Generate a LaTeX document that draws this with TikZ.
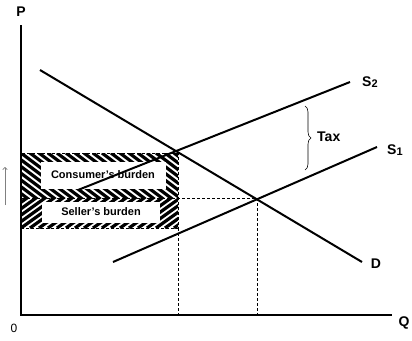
\documentclass[tikz,border=0pt]{standalone}
\usepackage{fontspec}
\setmainfont{Liberation Sans}
\usetikzlibrary{decorations.pathreplacing,arrows.meta}
\begin{document}
\begin{tikzpicture}[
    x=1pt, y=-1pt,
    axis/.style={line width=2.5pt},
    curve/.style={line width=2pt},
    guide/.style={densely dashed, line width=0.5pt},
    stripe/.style={line width=3.2pt},
    label/.style={font=\bfseries\fontsize{14}{14}\selectfont, inner sep=0pt},
    burden/.style={fill=white, font=\bfseries\fontsize{11}{11}\selectfont, inner sep=0pt}
  ]
  \useasboundingbox (0,0) rectangle (412,340);
  % axes
  \coordinate (O) at (21,315);
  \coordinate (Ptop) at (21,25);
  \coordinate (Qend) at (392,315);
  % curves
  \coordinate (D1) at (40,70);
  \coordinate (D2) at (362,262);
  \coordinate (S2a) at (78,190);
  \coordinate (S2b) at (350,82);
  \coordinate (S1a) at (113,262);
  \coordinate (S1b) at (377,147);
  % burden box and equilibria
  \coordinate (BoxTL) at (22,153);
  \coordinate (BoxTR) at (178,153);
  \coordinate (BoxML) at (22,198);
  \coordinate (BoxBL) at (22,228);
  \coordinate (BoxBR) at (178,228);
  \coordinate (Eq) at (257,198);
  \coordinate (Q1) at (178,315);
  \coordinate (Q0) at (257,315);
  % hatching
  \begin{scope}
    \clip (BoxTL) rectangle (BoxBR);
    \foreach \p in {0,9,...,240}
      \draw[stripe] (\p-60,153) -- (\p,198) -- (\p-42,228);
  \end{scope}
  \draw[guide] (BoxTL) -- (BoxTR) -- (BoxBR) -- (BoxBL);
  \draw[guide] (BoxML) -- (Eq);
  \draw[guide] (BoxBR) -- (Q1);
  \draw[guide] (Eq) -- (Q0);
  \node[burden, minimum width=125pt, minimum height=27pt] (cons) at (103,175) {Consumer's burden};
  \node[burden, minimum width=118pt, minimum height=21pt] (sell) at (101,212) {Seller's burden};
  \draw[axis] (Ptop) -- (O) -- (Qend);
  \draw[curve] (D1) -- (D2);
  \draw[curve] (S2a) -- (S2b);
  \draw[curve] (S1a) -- (S1b);
  \draw[decorate, decoration={brace, amplitude=6pt}, line width=0.6pt] (305,106) coordinate (TaxTop) -- (305,170) coordinate (TaxBot);
  % labels
  \node[label] (P) at (21,12) {P};
  \node[label] (Q) at (404,323) {Q};
  \node[font=\fontsize{12}{12}\selectfont, inner sep=0pt] (zero) at (14,328) {0};
  \node[label] (D) at (376,264) {D};
  \node[label, anchor=west] (S2) at (362,82) {S\raisebox{-1pt}{\fontsize{11}{11}\selectfont 2}};
  \node[label, anchor=west] (S1) at (387,150) {S\raisebox{-1pt}{\fontsize{11}{11}\selectfont 1}};
  \node[label, anchor=west] (tax) at (317,137) {Tax};
  \coordinate (ArrLow) at (5,205);
  \coordinate (ArrHigh) at (5,167);
  \draw[-{To[length=3pt,width=5pt]}, gray, line width=0.7pt] (ArrLow) -- (ArrHigh);
\end{tikzpicture}
\end{document}
